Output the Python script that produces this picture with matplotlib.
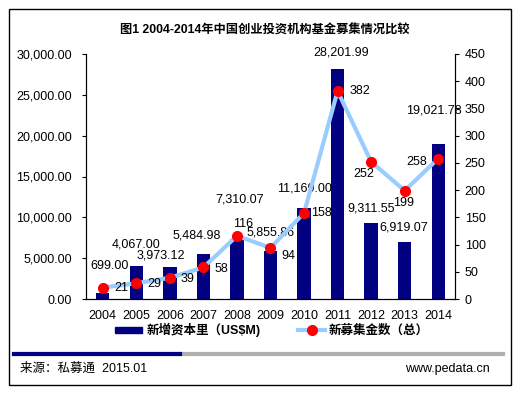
import matplotlib
matplotlib.use("Agg")
import matplotlib.pyplot as plt
from matplotlib.ticker import FuncFormatter, MultipleLocator
from matplotlib.patches import Rectangle
from matplotlib.lines import Line2D

plt.rcParams['font.family'] = ['Liberation Sans', 'Noto Sans CJK SC']

years = ['2004', '2005', '2006', '2007', '2008', '2009', '2010', '2011', '2012', '2013', '2014']
capital = [699.00, 4067.00, 3973.12, 5484.98, 7310.07, 5855.86, 11169.00, 28201.99, 9311.55, 6919.07, 19021.78]
funds = [21, 29, 39, 58, 116, 94, 158, 382, 252, 199, 258]

# label offsets (pixels) so they sit roughly where the original has them
bar_off = [(7, 21), (0, 15), (-9, 5), (-7, 13), (3, 34), (0, 13), (0, 13), (4, 10), (0, 8), (-1, 9), (-4, 27)]
line_off = [(19, 0), (18, -1), (18, -1), (18, -2), (6, 12), (18, -8), (17, 0), (22, 0), (-7, -12), (-1, -12), (-22, -3)]

fig = plt.figure(figsize=(5.24, 3.96), dpi=100)
ax = fig.add_axes([86 / 524, 1 - 299 / 396, 369 / 524, 245 / 396])
ax2 = ax.twinx()

x = list(range(len(years)))
bars = ax.bar(x, capital, width=0.4, color='#000080', zorder=2)
ax.set_xlim(-0.5, 10.5)
ax.set_ylim(0, 30000)
ax.yaxis.set_major_locator(MultipleLocator(5000))
ax.yaxis.set_major_formatter(FuncFormatter(lambda v, p: '{:,.2f}'.format(v)))
ax.set_xticks(x)
ax.set_xticklabels(years)
ax.tick_params(axis='x', length=0, pad=8, labelsize=9)
ax.tick_params(axis='y', length=3, labelsize=9, pad=7)

ax2.plot(x, funds, color='#99ccff', lw=3, zorder=3)
ax2.plot(x, funds, 'o', color='#ff0000', ms=7, zorder=4)
ax2.set_ylim(0, 450)
ax2.yaxis.set_major_locator(MultipleLocator(50))
ax2.tick_params(axis='y', length=3, labelsize=9, pad=4)

ax.spines['top'].set_visible(False)
ax2.spines['top'].set_visible(False)
for s in ['left', 'right', 'bottom']:
    ax2.spines[s].set_linewidth(0.8)

for i, v in enumerate(capital):
    ax.annotate('{:,.2f}'.format(v), (i, v), xytext=bar_off[i], textcoords='offset pixels',
                ha='center', va='bottom', fontsize=9, zorder=5)
for i, v in enumerate(funds):
    ax2.annotate(str(v), (i, v), xytext=line_off[i], textcoords='offset pixels',
                 ha='center', va='center', fontsize=9, zorder=5)

fig.text(265 / 524, 1 - 31 / 396, '图1 2004-2014年中国创业投资机构基金募集情况比较', ha='center', va='center',
         fontsize=8.8, fontweight='bold')

handles = [Rectangle((0, 0), 1, 1, color='#000080'),
           Line2D([], [], color='#99ccff', lw=3, marker='o', mfc='#ff0000', mec='#ff0000', ms=7)]
fig.legend(handles, ['新增资本里（US$M)', '新募集金数（总）'], loc='center', ncol=2,
           bbox_to_anchor=(272 / 524, 1 - 330 / 396), frameon=False, handlelength=2.2, handleheight=0.35,
           handletextpad=0.3, columnspacing=3.0, prop={'weight': 'bold', 'size': 9})

# footer bar and source text
fig.add_artist(Line2D([14 / 524, 503 / 524], [1 - 354 / 396] * 2, color='#b0b0b0', lw=3))
fig.add_artist(Line2D([14 / 524, 180 / 524], [1 - 354 / 396] * 2, color='#000080', lw=3))
fig.text(20 / 524, 1 - 369 / 396, '来源：私募通  2015.01', ha='left', va='center', fontsize=9)
fig.text(490 / 524, 1 - 369 / 396, 'www.pedata.cn', ha='right', va='center', fontsize=9)

# outer frame
fig.add_artist(Rectangle((9 / 524, 1 - 385 / 396), 502 / 524, 376 / 396, fill=False,
                         edgecolor='black', lw=1, transform=fig.transFigure))

fig.savefig('out.png', dpi=100)
